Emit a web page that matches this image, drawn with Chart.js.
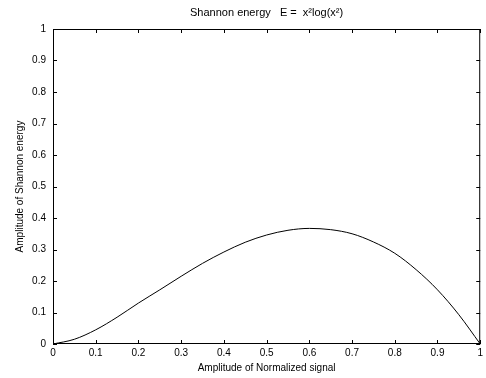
<!DOCTYPE html>
<html lang="en">
<head>
  <meta charset="UTF-8" />
  <title>Shannon energy</title>
  <script src="https://cdn.jsdelivr.net/npm/chart.js"></script>
  <style>
    * { margin: 0; padding: 0; box-sizing: border-box; }
    body { background: #fff; }
    .chart-container { width: 486px; height: 378px; position: relative; }
  </style>
</head>
<body>
  <div class="chart-container">
    <canvas id="energyChart"></canvas>
  </div>

  <script>
    // values
    const amplitudes = [0, 0.05, 0.1, 0.15, 0.2, 0.25, 0.3, 0.35, 0.4, 0.45, 0.5,
                        0.55, 0.6, 0.65, 0.7, 0.75, 0.8, 0.85, 0.9, 0.95, 1];
    const energies = [0, 0.015, 0.045, 0.085, 0.13, 0.172, 0.215, 0.256, 0.292, 0.323, 0.346,
                      0.361, 0.367, 0.363, 0.35, 0.324, 0.288, 0.236, 0.172, 0.093, 0];
    const tickValues = [0, 0.1, 0.2, 0.3, 0.4, 0.5, 0.6, 0.7, 0.8, 0.9, 1];
    const tickLabels = ['0', '0.1', '0.2', '0.3', '0.4', '0.5', '0.6', '0.7', '0.8', '0.9', '1'];

    const points = amplitudes.map((x, i) => ({ x: x, y: energies[i] }));
    const fontFamily = "'Liberation Sans', Arial, sans-serif";
    const labelFont = { family: fontFamily, size: 10 };

    // MATLAB style box with inward ticks, title centred over the axes
    const boxTicks = {
      id: 'boxTicks',
      afterDraw(chart) {
        const { ctx, chartArea: a, scales } = chart;
        ctx.save();
        ctx.strokeStyle = '#000';
        ctx.lineWidth = 1;
        ctx.strokeRect(a.left + 0.5, a.top + 0.5, a.right - a.left - 1, a.bottom - a.top - 1);
        ctx.beginPath();
        tickValues.forEach(v => {
          const px = Math.round(scales.x.getPixelForValue(v)) + 0.5;
          ctx.moveTo(px, a.bottom); ctx.lineTo(px, a.bottom - 4);
          ctx.moveTo(px, a.top); ctx.lineTo(px, a.top + 4);
          const py = Math.round(scales.y.getPixelForValue(v)) + 0.5;
          ctx.moveTo(a.left, py); ctx.lineTo(a.left + 4, py);
          ctx.moveTo(a.right, py); ctx.lineTo(a.right - 4, py);
        });
        ctx.stroke();

        ctx.fillStyle = '#000';
        ctx.font = '11px ' + fontFamily;
        ctx.textAlign = 'center';
        ctx.textBaseline = 'middle';
        ctx.fillText('Shannon energy   E =  x\u00b2log(x\u00b2)', (a.left + a.right) / 2, 13);
        ctx.restore();
      }
    };

    new Chart(document.getElementById('energyChart'), {
      type: 'line',
      data: {
        datasets: [{
          data: points,
          borderColor: '#000',
          borderWidth: 1,
          pointRadius: 0,
          fill: false,
          cubicInterpolationMode: 'monotone'
        }]
      },
      options: {
        responsive: true,
        maintainAspectRatio: false,
        animation: false,
        layout: { padding: { top: 29, right: 2 } },
        plugins: {
          legend: { display: false },
          tooltip: { enabled: false },
          title: { display: false }
        },
        scales: {
          x: {
            type: 'linear',
            min: 0,
            max: 1,
            afterBuildTicks: s => { s.ticks = tickValues.map(v => ({ value: v })); },
            afterFit: s => { s.height = 34; },
            grid: { display: false, drawTicks: false },
            border: { display: false },
            ticks: {
              color: '#000', font: labelFont, padding: 3, maxRotation: 0,
              callback: (v, i) => tickLabels[i]
            },
            title: {
              display: true,
              text: 'Amplitude of Normalized signal',
              color: '#000',
              font: labelFont,
              padding: { top: 0, bottom: 4 }
            }
          },
          y: {
            min: 0,
            max: 1,
            afterBuildTicks: s => { s.ticks = tickValues.map(v => ({ value: v })); },
            afterFit: s => { s.width = 53; },
            grid: { display: false, drawTicks: false },
            border: { display: false },
            ticks: {
              color: '#000', font: labelFont, padding: 7,
              callback: (v, i) => tickLabels[i]
            },
            title: {
              display: true,
              text: 'Amplitude of Shannon energy',
              color: '#000',
              font: labelFont,
              padding: { top: 14, bottom: 0 }
            }
          }
        }
      },
      plugins: [boxTicks]
    });
  </script>
</body>
</html>
